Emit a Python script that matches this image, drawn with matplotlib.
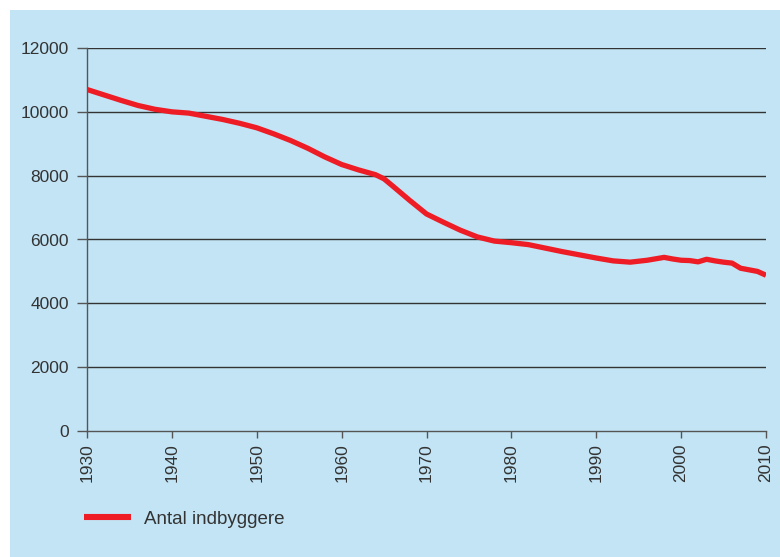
import numpy as np
import matplotlib.pyplot as plt
from matplotlib.patches import Rectangle

# Antal indbyggere
years = [1930, 1932, 1934, 1936, 1938, 1940, 1942, 1944, 1946, 1948,
         1950, 1952, 1954, 1956, 1958, 1960, 1962, 1964, 1965, 1966,
         1968, 1970, 1972, 1974, 1976, 1978, 1980, 1982, 1984, 1986,
         1988, 1990, 1992, 1994, 1996, 1998, 1999, 2000, 2001, 2002,
         2003, 2004, 2005, 2006, 2007, 2008, 2009, 2010]
pop = [10700, 10530, 10360, 10200, 10080, 10000, 9960, 9860, 9760, 9640,
       9500, 9310, 9100, 8860, 8590, 8350, 8180, 8030, 7900, 7680,
       7230, 6800, 6540, 6290, 6080, 5950, 5900, 5840, 5730, 5620,
       5520, 5420, 5330, 5290, 5350, 5440, 5390, 5350, 5340, 5300,
       5380, 5330, 5290, 5260, 5100, 5050, 5000, 4880]

yticks = [0, 2000, 4000, 6000, 8000, 10000, 12000]
xticks = [1930, 1940, 1950, 1960, 1970, 1980, 1990, 2000, 2010]

plt.rcParams['font.family'] = ['Liberation Sans', 'DejaVu Sans']

bg = '#c2e4f5'
W, H = 780, 557
fig = plt.figure(figsize=(W / 100, H / 100), dpi=100)
fig.patch.set_facecolor('white')
fig.add_artist(Rectangle((10 / W, 0), 1 - 10 / W, 1 - 10 / H,
                         transform=fig.transFigure, facecolor=bg,
                         edgecolor='none', zorder=0))

ax = fig.add_axes([87 / W, 126 / H, 679 / W, 383 / H])
ax.set_facecolor('none')
ax.plot(years, pop, color='#ee1c25', lw=3.8, solid_capstyle='butt',
        label='Antal indbyggere', zorder=3)

ax.set_xlim(1930, 2010)
ax.set_ylim(0, 12000)
ax.set_yticks(yticks)
ax.set_xticks(xticks)
ax.set_yticklabels([str(v) for v in yticks])
ax.set_xticklabels([str(v) for v in xticks], rotation=90)

for v in yticks[1:]:
    ax.axhline(v, color='#333333', lw=1.0, zorder=1)

for s in ['top', 'right']:
    ax.spines[s].set_visible(False)
for s in ['left', 'bottom']:
    ax.spines[s].set_color('#555555')
    ax.spines[s].set_linewidth(1.0)

ax.tick_params(axis='y', length=7, width=1, color='#555555', pad=6,
               labelsize=12.5, labelcolor='#333333')
ax.tick_params(axis='x', length=5, width=1, color='#555555', pad=4,
               labelsize=12.5, labelcolor='#333333')

leg = ax.legend(loc='center left', bbox_to_anchor=(84 / W, 38 / H),
                bbox_transform=fig.transFigure, frameon=False,
                borderaxespad=0, borderpad=0,
                fontsize=13.5, handlelength=2.5, handletextpad=0.7,
                labelcolor='#333333')
for h in leg.get_lines():
    h.set_linewidth(4.4)

fig.savefig('out.png', dpi=100, facecolor=fig.get_facecolor())
